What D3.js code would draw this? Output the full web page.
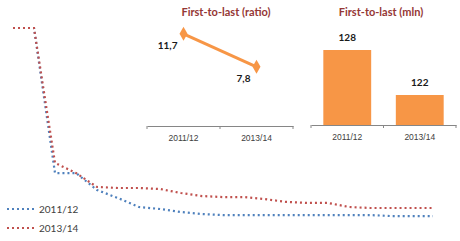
<!DOCTYPE html>
<html lang='en'>
    <head>
        <meta charset='utf-8'>
        <title>First-to-last</title>
        <script src="https://d3js.org/d3.v7.min.js" charset='utf-8'></script>
        <style type='text/css'>
            body { margin: 0; background: #fff; }
            svg { display: block; font-family: Lato, 'Open Sans', sans-serif; }
            .title { font-weight: bold; fill: #953735; font-size: 11px; }
            .cat { fill: #404040; font-size: 8.5px; }
            .val { fill: #1a1a1a; font-weight: bold; font-size: 10px; }
            .leg { fill: #404040; font-size: 10px; }
        </style>
    </head>
    <body>
        <script type='text/javascript'>
            // main chart: ranks along x, two seasons
            var ranks = [1, 2, 3, 4, 5, 6, 7, 8, 9, 10, 11, 12, 13, 14, 15, 16, 17, 18, 19, 20, 21];
            var season1 = [100, 100, 28.2, 28.2, 19.8, 15.8, 11.4, 10.4, 8.9, 7.9, 7.4, 7.4, 7.4, 7.4, 7.4, 7.4, 7.4, 7.4, 6.9, 6.9, 6.9];
            var season2 = [100, 100, 33.2, 28.2, 21.3, 20.8, 20.8, 20.3, 18.3, 16.8, 16.3, 16.3, 15.3, 13.9, 13.4, 13.4, 11.4, 10.9, 10.9, 10.9, 10.9];
            var seasons = ['2011/12', '2013/14'];
            // insets
            var ratioVals = [11.7, 7.8];
            var mlnVals = [128, 122];

            var width = 460, height = 241;
            var svg = d3.select('body').append('svg')
                .attr('width', width)
                .attr('height', height);

            var x = d3.scalePoint().domain(ranks).range([13, 433]);
            var y = d3.scaleLinear().domain([0, 100]).range([230, 28]);
            var colors = ['#4F81BD', '#C0504D'];

            var line = d3.line()
                .x(function(d, i) { return x(ranks[i]); })
                .y(function(d) { return y(d); });

            [season1, season2].forEach(function(s, i) {
                svg.append('path')
                    .attr('d', line(s))
                    .attr('fill', 'none')
                    .attr('stroke', colors[i])
                    .attr('stroke-width', 2.2)
                    .attr('stroke-dasharray', '2,3');
            });

            // legend
            seasons.forEach(function(name, i) {
                var ly = 209 + i * 19;
                svg.append('line')
                    .attr('x1', 7).attr('x2', 34)
                    .attr('y1', ly).attr('y2', ly)
                    .attr('stroke', colors[i])
                    .attr('stroke-width', 2.2)
                    .attr('stroke-dasharray', '2,3');
                svg.append('text')
                    .attr('class', 'leg')
                    .attr('x', 39).attr('y', ly)
                    .attr('dy', '0.35em')
                    .text(name);
            });

            // inset 1: ratio line
            var g1 = svg.append('g');
            var x1 = d3.scaleBand().domain(seasons).range([147, 293]);
            var y1 = d3.scaleLinear().domain([0.8, 14]).range([126, 14.3]);
            g1.append('text').attr('class', 'title')
                .attr('x', 226).attr('y', 16)
                .attr('text-anchor', 'middle')
                .text('First-to-last (ratio)');
            g1.append('g')
                .attr('transform', 'translate(0,126)')
                .call(d3.axisBottom(x1).tickSize(0).tickPadding(9))
                .call(function(a) {
                    a.select('.domain').attr('stroke', '#868686');
                    a.selectAll('text').attr('class', 'cat').attr('font-family', null).attr('font-size', null);
                });
            g1.selectAll('.tk').data([147, 220, 293]).enter().append('line')
                .attr('x1', function(d) { return d; }).attr('x2', function(d) { return d; })
                .attr('y1', 126).attr('y2', 129)
                .attr('stroke', '#868686');
            var line1 = d3.line()
                .x(function(d, i) { return x1(seasons[i]) + x1.bandwidth() / 2; })
                .y(function(d) { return y1(d); });
            g1.append('path')
                .attr('d', line1(ratioVals))
                .attr('fill', 'none')
                .attr('stroke', '#F79646')
                .attr('stroke-width', 3);
            g1.selectAll('.mk').data(ratioVals).enter().append('path')
                .attr('d', d3.symbol().type(d3.symbolDiamond).size(55))
                .attr('fill', '#F79646')
                .attr('transform', function(d, i) {
                    return 'translate(' + (x1(seasons[i]) + x1.bandwidth() / 2) + ',' + y1(d) + ')';
                });
            g1.selectAll('.lbl').data(ratioVals).enter().append('text')
                .attr('class', 'val')
                .attr('x', function(d, i) { return x1(seasons[i]) + x1.bandwidth() / 2 - 6; })
                .attr('y', function(d) { return y1(d) + 15; })
                .attr('text-anchor', 'end')
                .text(function(d) { return String(d).replace('.', ','); });

            // inset 2: mln bars
            var g2 = svg.append('g');
            var x2 = d3.scaleBand().domain(seasons).range([311, 456]).paddingInner(0.34).paddingOuter(0.17);
            var y2 = d3.scaleLinear().domain([118, 132]).range([125, 20]);
            g2.append('text').attr('class', 'title')
                .attr('x', 381).attr('y', 16)
                .attr('text-anchor', 'middle')
                .text('First-to-last (mln)');
            g2.selectAll('rect').data(mlnVals).enter().append('rect')
                .attr('x', function(d, i) { return x2(seasons[i]); })
                .attr('y', function(d) { return y2(d); })
                .attr('width', x2.bandwidth())
                .attr('height', function(d) { return 125 - y2(d); })
                .attr('fill', '#F79646');
            g2.append('g')
                .attr('transform', 'translate(0,125)')
                .call(d3.axisBottom(x2).tickSize(0).tickPadding(9))
                .call(function(a) {
                    a.select('.domain').attr('stroke', '#868686');
                    a.selectAll('text').attr('class', 'cat').attr('font-family', null).attr('font-size', null);
                });
            g2.selectAll('.tk').data([311, 383.5, 456]).enter().append('line')
                .attr('x1', function(d) { return d; }).attr('x2', function(d) { return d; })
                .attr('y1', 125).attr('y2', 128)
                .attr('stroke', '#868686');
            g2.selectAll('.lbl').data(mlnVals).enter().append('text')
                .attr('class', 'val')
                .attr('x', function(d, i) { return x2(seasons[i]) + x2.bandwidth() / 2; })
                .attr('y', function(d) { return y2(d) - 9; })
                .attr('text-anchor', 'middle')
                .text(function(d) { return d; });
        </script>
    </body>
</html>
